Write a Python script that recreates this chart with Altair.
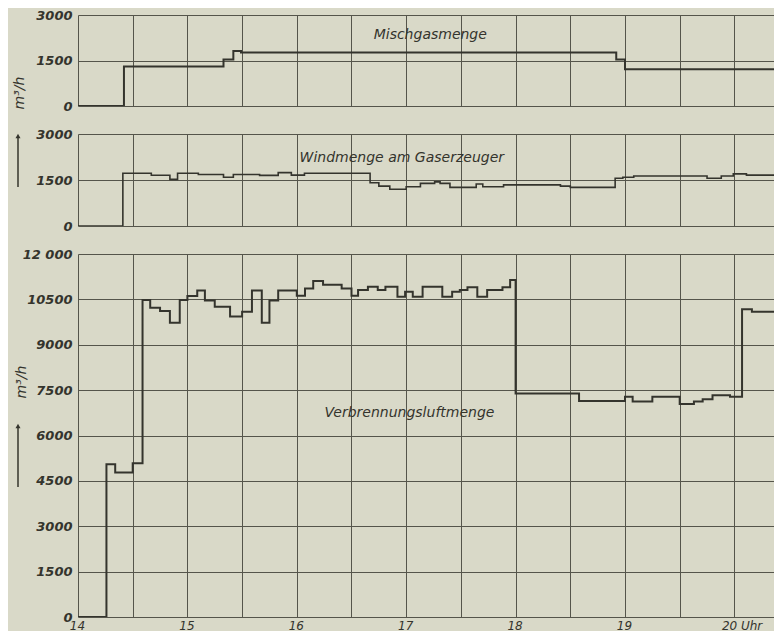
import altair as alt
import pandas as pd

# ---------------- data (hours of day, m3/h) ----------------
mix_t = [14.0, 14.42, 15.33, 15.42, 15.49, 18.92, 19.0]
mix_v = [0, 1300, 1530, 1810, 1760, 1530, 1210]

wind_t = [14.0, 14.41, 14.67, 14.84, 14.91, 15.10, 15.33, 15.42, 15.66, 15.83,
          15.95, 16.07, 16.67, 16.75, 16.85, 17.0, 17.13, 17.26, 17.31, 17.40,
          17.64, 17.70, 17.89, 18.41, 18.5, 18.91, 18.98, 19.08, 19.75, 19.88,
          19.99, 20.11]
wind_v = [0, 1720, 1655, 1520, 1720, 1680, 1590, 1680, 1650, 1740,
          1660, 1720, 1410, 1300, 1200, 1280, 1390, 1440, 1390, 1260,
          1370, 1280, 1340, 1300, 1260, 1555, 1590, 1630, 1555, 1630,
          1700, 1660]

air_t = [14.0, 14.26, 14.34, 14.50, 14.59, 14.66, 14.75, 14.84, 14.93, 15.00,
         15.09, 15.16, 15.25, 15.39, 15.50, 15.59, 15.68, 15.75, 15.83, 16.00,
         16.075, 16.15, 16.24, 16.41, 16.50, 16.56, 16.65, 16.74, 16.81, 16.92,
         16.99, 17.06, 17.15, 17.33, 17.42, 17.49, 17.56, 17.65, 17.74, 17.88,
         17.95, 18.0, 18.58, 19.0, 19.07, 19.25, 19.50, 19.63, 19.71, 19.80,
         19.96, 20.07, 20.16]
air_v = [0, 5050, 4780, 5080, 10480, 10225, 10115, 9730, 10480, 10610,
         10790, 10460, 10260, 9930, 10090, 10790, 9730, 10460, 10790, 10620,
         10860, 11110, 10980, 10860, 10620, 10810, 10920, 10810, 10920, 10590,
         10750, 10590, 10920, 10590, 10750, 10810, 10900, 10590, 10810, 10900,
         11140, 7390, 7140, 7280, 7120, 7280, 7040, 7120, 7200, 7330,
         7280, 10170, 10090]

half_hours = [14, 14.5, 15, 15.5, 16, 16.5, 17, 17.5, 18, 18.5, 19, 19.5, 20]
small_ticks = [0, 1500, 3000]
big_ticks = [0, 1500, 3000, 4500, 6000, 7500, 9000, 10500, 12000]

titles = ["Mischgasmenge", "Windmenge am Gaserzeuger", "Verbrennungsluftmenge"]
title_pos = [(17.22, 2340), (16.96, 2217), (17.03, 6744)]
unit = "m³/h"

T_END = 20.362
BG = "#d9d9c8"
INK = "#34342d"
GRID = "#55554b"
FONT = "DejaVu Sans"
W = 696


def panel(t, v, ymax, yvals, h, title, tpos, show_x, extras, lw):
    df = pd.DataFrame({"t": t + [T_END], "v": v + [v[-1]]})
    xaxis = alt.Axis(
        values=half_hours, grid=True, gridColor=GRID, gridWidth=1, gridOpacity=1,
        domain=False, ticks=False, labels=show_x, title=None, labelFlush=False,
        labelOverlap=False,
        labelExpr="datum.value == 20 ? '20 Uhr' : (datum.value % 1 == 0 ? format(datum.value, 'd') : '')",
        labelAlign={"condition": {"test": "datum.value == 20", "value": "left"}, "value": "center"},
        labelOffset={"condition": {"test": "datum.value == 20", "value": -13}, "value": -1},
        labelFont=FONT, labelFontSize=12, labelFontStyle="italic", labelColor=INK,
        labelPadding=3,
    )
    yaxis = alt.Axis(
        values=yvals, grid=True, gridColor=GRID, gridWidth=1, gridOpacity=1,
        domain=False, ticks=False, title=None, labelOverlap=False,
        labelExpr="datum.value == 12000 ? '12 000' : format(datum.value, 'd')",
        labelFont=FONT, labelFontSize=13, labelFontStyle="italic", labelFontWeight="bold",
        labelColor=INK, labelPadding=6,
    )
    x = alt.X("t:Q", scale=alt.Scale(domain=[14, T_END], nice=False, zero=False), axis=xaxis)
    y = alt.Y("v:Q", scale=alt.Scale(domain=[0, ymax], nice=False), axis=yaxis)
    line = alt.Chart(df).mark_line(
        interpolate="step-after", color=INK, strokeWidth=lw, clip=True
    ).encode(x=x, y=y)
    lab = alt.Chart(pd.DataFrame({"t": [tpos[0]], "v": [tpos[1]], "s": [title]})).mark_text(
        font=FONT, fontSize=14, fontStyle="italic", color=INK
    ).encode(x="t:Q", y="v:Q", text="s:N")
    return alt.layer(line, lab, *extras).properties(width=W, height=h)


def unit_text(px, py):
    return alt.Chart(pd.DataFrame({"s": [unit]})).mark_text(
        font=FONT, fontSize=14, fontStyle="italic", color=INK, angle=270
    ).encode(x=alt.value(px), y=alt.value(py), text="s:N")


def arrow(px, y1, y2):
    r = alt.Chart(pd.DataFrame({"a": [0]})).mark_rule(color=INK, strokeWidth=1.5).encode(
        x=alt.value(px), y=alt.value(y1), y2=alt.value(y2))
    p = alt.Chart(pd.DataFrame({"a": [0]})).mark_point(
        shape="triangle-up", filled=True, size=25, color=INK, opacity=1).encode(
        x=alt.value(px), y=alt.value(y1))
    return [r, p]


top = panel(mix_t, mix_v, 3000, small_ticks, 91, titles[0], title_pos[0], False,
            [unit_text(-58, 78)], 2)
mid = panel(wind_t, wind_v, 3000, small_ticks, 92, titles[1], title_pos[1], False,
            arrow(-60, 2, 53), 1.6)
bot = panel(air_t, air_v, 12000, big_ticks, 363, titles[2], title_pos[2], True,
            [unit_text(-56, 128)] + arrow(-60, 172, 233), 2)

chart = alt.vconcat(top, mid, bot, spacing=15).properties(
    background=BG,
    padding={"left": 5, "top": 1, "right": 0, "bottom": 0},
    autosize=alt.AutoSizeParams(type="pad"),
).configure_view(stroke=None)

chart.save("out.html", embed_options={"renderer": "svg", "actions": False})
